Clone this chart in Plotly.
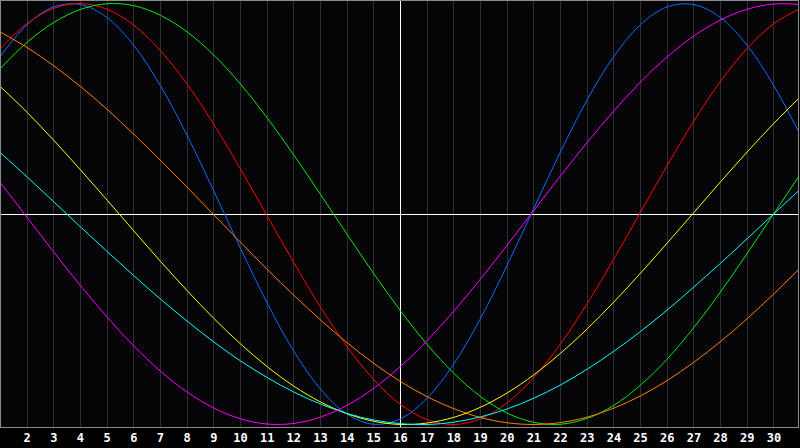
import plotly.graph_objects as go

days = list(range(1, 32))
tick_days = list(range(2, 31))
tick_labels = [str(d) for d in tick_days]
today = 16

blue = [0.749, 0.900, 0.984, 0.995, 0.933, 0.801, 0.609, 0.373, 0.109, -0.163,
        -0.423, -0.652, -0.832, -0.951, -0.999, -0.973, -0.875, -0.712, -0.496, -0.243,
        0.027, 0.296, 0.543, 0.749, 0.900, 0.984, 0.995, 0.933, 0.801, 0.609, 0.373]
red = [0.787, 0.905, 0.977, 1.000, 0.973, 0.897, 0.776, 0.617, 0.426, 0.214,
       -0.009, -0.231, -0.442, -0.631, -0.787, -0.905, -0.977, -1.000, -0.973, -0.897,
       -0.776, -0.617, -0.426, -0.214, 0.009, 0.231, 0.442, 0.631, 0.787, 0.905, 0.977]
green = [0.692, 0.816, 0.910, 0.972, 0.999, 0.990, 0.944, 0.865, 0.755, 0.617,
         0.457, 0.280, 0.093, -0.097, -0.284, -0.460, -0.620, -0.757, -0.867, -0.946,
         -0.990, -0.999, -0.971, -0.909, -0.813, -0.689, -0.539, -0.370, -0.187, 0.002, 0.191]
orange = [0.864, 0.791, 0.704, 0.606, 0.497, 0.379, 0.255, 0.127, -0.004, -0.134,
          -0.263, -0.386, -0.503, -0.612, -0.710, -0.796, -0.868, -0.925, -0.967, -0.992,
          -1.000, -0.991, -0.965, -0.922, -0.864, -0.791, -0.704, -0.606, -0.497, -0.379, -0.255]
yellow = [0.605, 0.483, 0.350, 0.210, 0.066, -0.080, -0.225, -0.364, -0.496, -0.617,
          -0.725, -0.818, -0.893, -0.949, -0.985, -1.000, -0.993, -0.966, -0.918, -0.850,
          -0.764, -0.662, -0.546, -0.418, -0.281, -0.138, 0.007, 0.153, 0.295, 0.431, 0.558]
cyan = [0.291, 0.176, 0.058, -0.061, -0.178, -0.293, -0.404, -0.509, -0.608, -0.698,
        -0.777, -0.846, -0.903, -0.948, -0.979, -0.996, -1.000, -0.989, -0.964, -0.926,
        -0.875, -0.812, -0.737, -0.652, -0.558, -0.456, -0.347, -0.234, -0.117, 0.001, 0.119]
magenta = [0.148, -0.016, -0.181, -0.340, -0.490, -0.627, -0.747, -0.846, -0.922, -0.973,
           -0.998, -0.995, -0.965, -0.909, -0.828, -0.724, -0.601, -0.461, -0.309, -0.148,
           0.017, 0.181, 0.340, 0.490, 0.627, 0.747, 0.846, 0.922, 0.973, 0.998, 0.995]

series = [
    ("blue", blue, "#0a6cff"),
    ("red", red, "#ff0000"),
    ("green", green, "#00ee00"),
    ("orange", orange, "#ff8000"),
    ("yellow", yellow, "#ffff00"),
    ("cyan", cyan, "#00ffff"),
    ("magenta", magenta, "#ff00ff"),
]

YR = 1.012

fig = go.Figure()
fig.add_trace(go.Scatter(x=[today, today], y=[-YR, YR], mode="lines",
                         line=dict(color="#ffffff", width=1), hoverinfo="skip"))
for name, vals, col in series:
    fig.add_trace(go.Scatter(x=days, y=vals, mode="lines", name=name,
                             line=dict(color=col, width=1, shape="spline", smoothing=1)))

fig.update_layout(
    width=800, height=448,
    margin=dict(l=1, r=2, t=1, b=21),
    paper_bgcolor="#000000",
    plot_bgcolor="#050508",
    showlegend=False,
    xaxis=dict(range=[1.021, 30.9035], tickvals=tick_days, ticktext=tick_labels,
               showgrid=True, gridcolor="#303033", gridwidth=1,
               showline=True, linecolor="#8c8c8c", linewidth=1, mirror=True,
               ticks="", zeroline=False,
               tickfont=dict(family="DejaVu Sans Mono", size=12, color="#ffffff", weight="bold")),
    yaxis=dict(range=[-YR, YR], showgrid=False, showticklabels=False,
               showline=True, linecolor="#8c8c8c", linewidth=1, mirror=True,
               zeroline=True, zerolinecolor="#ffffff", zerolinewidth=1, ticks=""),
)

fig.write_html("out.html", config={"displayModeBar": False},
               post_script="document.body.style.margin='0';document.body.style.background='#000';")
